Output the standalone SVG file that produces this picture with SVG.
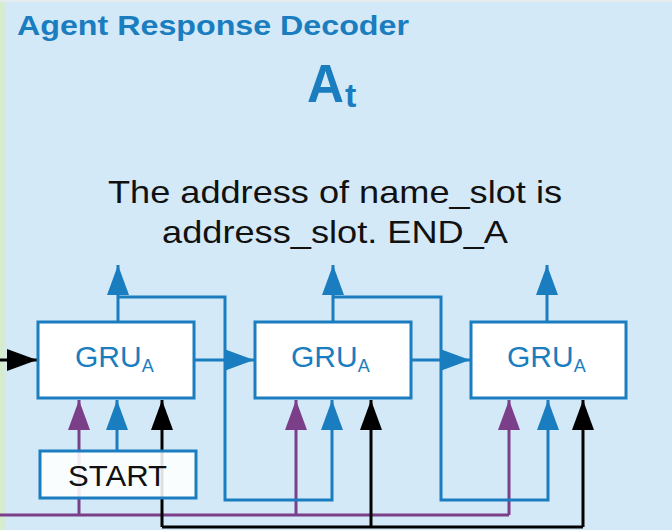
<svg xmlns="http://www.w3.org/2000/svg" width="672" height="530" viewBox="0 0 672 530">
  <style>
    .title { font-family: "Liberation Sans", Arial, sans-serif; font-weight: bold; fill: #1a7dbf; }
    .caption { font-family: "Liberation Sans", Arial, sans-serif; font-size: 32px; fill: #111; }
    .gru { font-family: "Liberation Sans", Arial, sans-serif; fill: #1a7dbf; }
    .box { fill: #ffffff; stroke: #1a7dbf; stroke-width: 3; }
    .start { fill: #ffffff; fill-opacity: 0.88; stroke: #1a7dbf; stroke-width: 3; }
    .blue { fill: none; stroke: #1a7dbf; stroke-width: 3; }
    .purple { fill: none; stroke: #7b3f8a; stroke-width: 3; }
    .black { fill: none; stroke: #000000; stroke-width: 3; }
  </style>
  <defs>
    <marker id="ahBlue" markerUnits="userSpaceOnUse" markerWidth="30" markerHeight="22" refX="30" refY="11" orient="auto">
      <path d="M0,0 L30,11 L0,22 Z" fill="#1a7dbf"/>
    </marker>
    <marker id="ahPurple" markerUnits="userSpaceOnUse" markerWidth="30" markerHeight="22" refX="30" refY="11" orient="auto">
      <path d="M0,0 L30,11 L0,22 Z" fill="#7b3f8a"/>
    </marker>
    <marker id="ahBlack" markerUnits="userSpaceOnUse" markerWidth="30" markerHeight="22" refX="30" refY="11" orient="auto">
      <path d="M0,0 L30,11 L0,22 Z" fill="#000000"/>
    </marker>
  </defs>

  <!-- panel background -->
  <rect x="0" y="0" width="672" height="530" fill="#d3e9f7"/>
  <rect x="0" y="0" width="672" height="2" fill="#e6ebee"/>
  <rect x="0" y="2" width="5" height="528" fill="#d6ebcf"/>

  <!-- headings -->
  <text class="title" x="17" y="35" font-size="28" textLength="392" lengthAdjust="spacingAndGlyphs">Agent Response Decoder</text>
  <text class="title" x="307" y="102" font-size="53" textLength="37" lengthAdjust="spacingAndGlyphs">A</text>
  <text class="title" x="345" y="107" font-size="34">t</text>

  <text class="caption" x="335" y="203" text-anchor="middle" textLength="454" lengthAdjust="spacingAndGlyphs">The address of name_slot is</text>
  <text class="caption" x="335" y="243" text-anchor="middle" textLength="346" lengthAdjust="spacingAndGlyphs">address_slot. END_A</text>

  <!-- connectors -->
  <g id="connectors">
    <!-- purple bus -->
    <path class="purple" d="M0,515 H509"/>
    <path class="purple" d="M79,515 V400" marker-end="url(#ahPurple)"/>
    <path class="purple" d="M296,515 V400" marker-end="url(#ahPurple)"/>
    <path class="purple" d="M509,515 V400" marker-end="url(#ahPurple)"/>
    <!-- black bus -->
    <path class="black" d="M162,527 H583"/>
    <path class="black" d="M162,527 V400" marker-end="url(#ahBlack)"/>
    <path class="black" d="M371,527 V400" marker-end="url(#ahBlack)"/>
    <path class="black" d="M583,527 V400" marker-end="url(#ahBlack)"/>
    <!-- input into first cell -->
    <path class="black" d="M0,360 H37" marker-end="url(#ahBlack)"/>
    <!-- START into first cell -->
    <path class="blue" d="M117,451 V400" marker-end="url(#ahBlue)"/>
    <!-- outputs and feedback -->
    <path class="blue" d="M118,322 V265" marker-end="url(#ahBlue)"/>
    <path class="blue" d="M118,297 H225 V500 H332 V400" marker-end="url(#ahBlue)"/>
    <path class="blue" d="M333,322 V265" marker-end="url(#ahBlue)"/>
    <path class="blue" d="M333,297 H441 V500 H548 V400" marker-end="url(#ahBlue)"/>
    <path class="blue" d="M547,322 V265" marker-end="url(#ahBlue)"/>
    <!-- hidden state chain -->
    <path class="blue" d="M194,360 H254" marker-end="url(#ahBlue)"/>
    <path class="blue" d="M411,360 H470" marker-end="url(#ahBlue)"/>
  </g>

  <g id="gru1">
    <rect class="box" x="38" y="322" width="156" height="76"/>
    <text class="gru" x="75" y="367" font-size="30">GRU<tspan font-size="18" dy="5">A</tspan></text>
  </g>
  <g id="gru2">
    <rect class="box" x="255" y="322" width="156" height="76"/>
    <text class="gru" x="291" y="367" font-size="30">GRU<tspan font-size="18" dy="5">A</tspan></text>
  </g>
  <g id="gru3">
    <rect class="box" x="471" y="322" width="155" height="76"/>
    <text class="gru" x="507" y="367" font-size="30">GRU<tspan font-size="18" dy="5">A</tspan></text>
  </g>
  <g id="start">
    <rect class="start" x="40" y="451" width="156" height="47"/>
    <text x="68" y="486" font-family="Liberation Sans, Arial, sans-serif" font-size="29" fill="#111" textLength="99" lengthAdjust="spacingAndGlyphs">START</text>
  </g>
</svg>
